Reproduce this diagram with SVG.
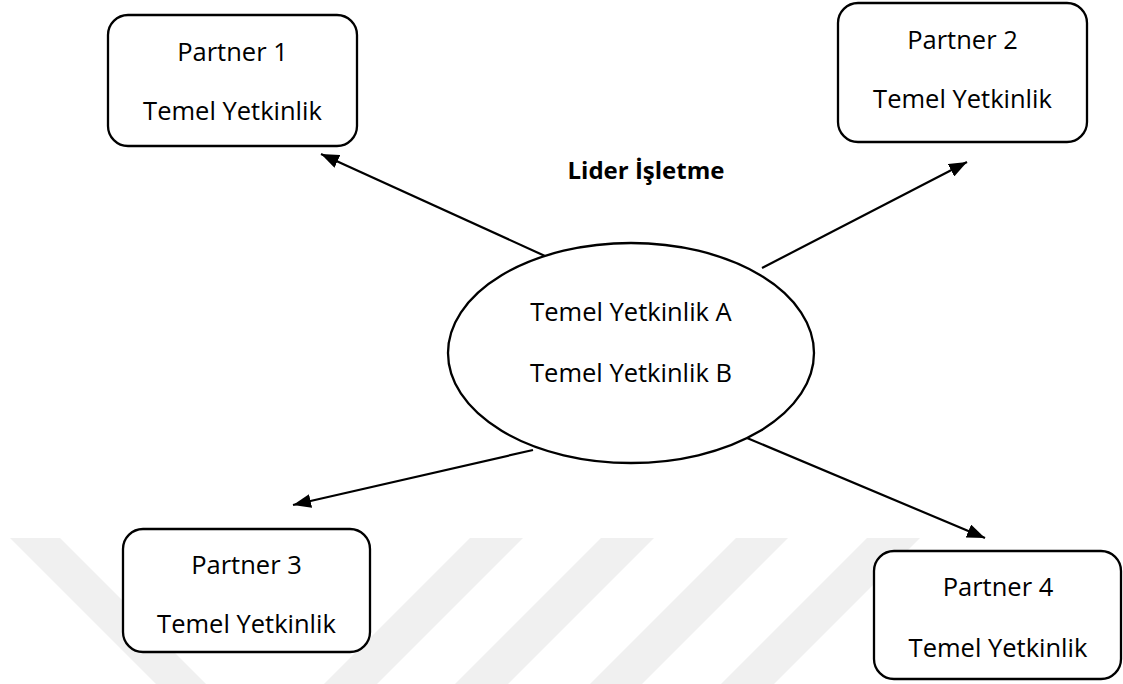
<svg xmlns="http://www.w3.org/2000/svg" width="1123" height="684" viewBox="0 0 1123 684">
  <style>
    .box { fill: #ffffff; stroke: #000000; stroke-width: 2.3; }
    .hub { fill: #ffffff; stroke: #000000; stroke-width: 2.3; }
    .lbl { font-family: "Open Sans", "Noto Sans", "Liberation Sans", sans-serif; font-size: 25.5px; fill: #000000; text-anchor: middle; }
    .title { font-family: "Open Sans", "Noto Sans", "Liberation Sans", sans-serif; font-size: 24px; font-weight: bold; fill: #000000; text-anchor: middle; }
    .link { fill: none; stroke: #000000; stroke-width: 2.2; }
    .mark { fill: #f0f0f0; }
  </style>
  <defs>
    <marker id="arrow" viewBox="0 0 18 14" refX="18" refY="7" markerWidth="18" markerHeight="14" markerUnits="userSpaceOnUse" orient="auto">
      <path d="M0,0 L18,7 L0,14 z" fill="#000000"/>
    </marker>
  </defs>

  <rect width="1123" height="684" fill="#ffffff"/>

  <!-- faint background mark: a V and slanted bands -->
  <g id="backdrop">
    <polygon class="mark" points="10,538 60,538 206,684 156,684"/>
    <polygon class="mark" points="470,538 523,538 377,684 324,684"/>
    <polygon class="mark" points="601,538 654,538 508,684 455,684"/>
    <polygon class="mark" points="736,538 788,538 642,684 590,684"/>
    <polygon class="mark" points="867,538 920,538 774,684 721,684"/>
  </g>

  <!-- connectors from the central firm to each partner -->
  <g id="connectors">
    <line class="link" x1="545" y1="256" x2="321" y2="154" marker-end="url(#arrow)"/>
    <line class="link" x1="762" y1="268" x2="967" y2="162" marker-end="url(#arrow)"/>
    <line class="link" x1="533" y1="450" x2="293" y2="505" marker-end="url(#arrow)"/>
    <line class="link" x1="747" y1="438" x2="985" y2="538" marker-end="url(#arrow)"/>
  </g>

  <g id="title">
    <text class="title" x="646" y="179">Lider İşletme</text>
  </g>

  <g id="hub">
    <ellipse class="hub" cx="631" cy="353" rx="183" ry="110"/>
    <text class="lbl" x="631" y="321">Temel Yetkinlik A</text>
    <text class="lbl" x="631" y="382">Temel Yetkinlik B</text>
  </g>

  <g id="partner1">
    <rect class="box" x="108" y="15" width="249" height="131" rx="20" ry="20"/>
    <text class="lbl" x="232.5" y="61">Partner 1</text>
    <text class="lbl" x="232.5" y="120">Temel Yetkinlik</text>
  </g>

  <g id="partner2">
    <rect class="box" x="838" y="3" width="249" height="139" rx="20" ry="20"/>
    <text class="lbl" x="962.5" y="49">Partner 2</text>
    <text class="lbl" x="962.5" y="108">Temel Yetkinlik</text>
  </g>

  <g id="partner3">
    <rect class="box" x="123" y="529" width="247" height="123" rx="20" ry="20"/>
    <text class="lbl" x="246.5" y="574">Partner 3</text>
    <text class="lbl" x="246.5" y="633">Temel Yetkinlik</text>
  </g>

  <g id="partner4">
    <rect class="box" x="874" y="551" width="247" height="128" rx="20" ry="20"/>
    <text class="lbl" x="998" y="596">Partner 4</text>
    <text class="lbl" x="998" y="657">Temel Yetkinlik</text>
  </g>
</svg>
